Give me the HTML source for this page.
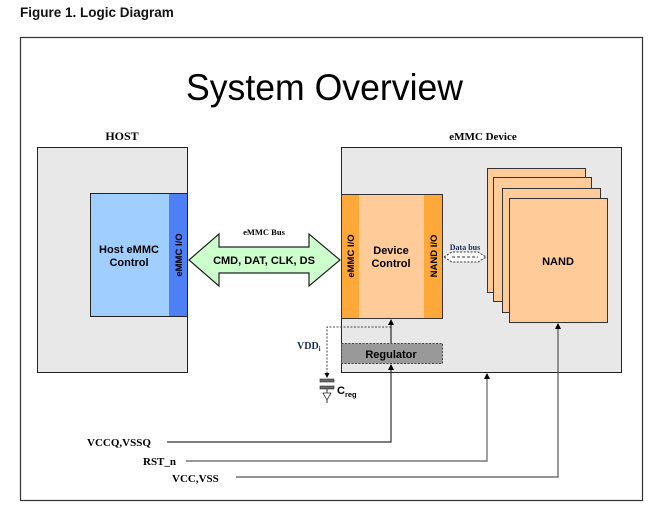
<!DOCTYPE html>
<html><head><meta charset="utf-8"><style>
body{margin:0;background:#fff;}
svg{display:block;}
.b{font-family:"Liberation Sans",sans-serif;font-weight:bold;}
.s{font-family:"Liberation Serif",serif;font-weight:bold;}
</style></head><body>
<svg width="652" height="511" viewBox="0 0 652 511" xmlns="http://www.w3.org/2000/svg">
<defs>
<marker id="ar" markerWidth="6" markerHeight="6" refX="5" refY="3" orient="auto" markerUnits="userSpaceOnUse"><path d="M0,0 L6,3 L0,6 Z" fill="#000"/></marker>
</defs>
<text x="20" y="17" class="b" font-size="13.5" fill="#111">Figure 1. Logic Diagram</text>
<rect x="20.5" y="37.5" width="622" height="463" fill="none" stroke="#333" stroke-width="1.2"/>
<text x="186" y="100" font-family="Liberation Sans,sans-serif" font-size="37" textLength="277" lengthAdjust="spacingAndGlyphs" fill="#000">System Overview</text>
<text x="122" y="140" text-anchor="middle" class="s" font-size="12">HOST</text>
<text x="483" y="140" text-anchor="middle" class="s" font-size="11">eMMC Device</text>
<!-- host -->
<rect x="37.5" y="147.5" width="150" height="225" fill="#e8e8e8" stroke="#222"/>
<rect x="90.5" y="193.5" width="97" height="123" fill="#a0cfff" stroke="#222"/>
<rect x="169" y="194" width="18" height="122" fill="#4f7ff5"/>
<text transform="translate(182,255) rotate(-90)" text-anchor="middle" class="b" font-size="9.5">eMMC I/O</text>
<text x="129" y="253" text-anchor="middle" class="b" font-size="11">Host eMMC</text>
<text x="129" y="266" text-anchor="middle" class="b" font-size="11">Control</text>
<!-- device -->
<rect x="341.5" y="147.5" width="280" height="225" fill="#e8e8e8" stroke="#222"/>
<rect x="341.5" y="194.5" width="101" height="124" fill="#ffcc99" stroke="#333"/>
<rect x="342" y="195" width="17" height="123" fill="#ffa83a"/>
<rect x="424" y="195" width="18" height="123" fill="#ffa83a"/>
<text transform="translate(354,256) rotate(-90)" text-anchor="middle" class="b" font-size="9.5">eMMC I/O</text>
<text transform="translate(437,256) rotate(-90)" text-anchor="middle" class="b" font-size="9.5">NAND I/O</text>
<text x="391" y="254" text-anchor="middle" class="b" font-size="11">Device</text>
<text x="391" y="267" text-anchor="middle" class="b" font-size="11">Control</text>
<!-- NAND stack -->
<rect x="487.5" y="168.5" width="98" height="124" fill="#ffcc99" stroke="#333"/>
<rect x="493.5" y="177.5" width="98" height="124" fill="#ffcc99" stroke="#333"/>
<rect x="502.5" y="188.5" width="98" height="124" fill="#ffcc99" stroke="#333"/>
<rect x="509.5" y="198.5" width="98" height="124" fill="#ffcc99" stroke="#333"/>
<text x="558" y="265" text-anchor="middle" class="b" font-size="11">NAND</text>
<!-- data bus -->
<text x="465" y="250" text-anchor="middle" class="s" font-size="8" fill="#1a2a5a">Data bus</text>
<path d="M444,257 L452,252 L478,252 L486,257 L478,262 L452,262 Z" fill="#fff" stroke="#333" stroke-dasharray="2,1.5"/>
<line x1="452" y1="257" x2="478" y2="257" stroke="#333" stroke-dasharray="3,2"/>
<!-- emmc bus arrow -->
<text x="264" y="235" text-anchor="middle" class="s" font-size="8.5">eMMC Bus</text>
<path d="M189,260 L219,234 L219,247 L309,247 L309,234 L340,260 L309,286 L309,273 L219,273 L219,286 Z" fill="#ccffcc" stroke="#222" stroke-width="1.2"/>
<text x="264" y="264" text-anchor="middle" class="b" font-size="11">CMD, DAT, CLK, DS</text>
<!-- regulator -->
<rect x="341.5" y="343.5" width="101" height="20" fill="#999" stroke="#444" stroke-dasharray="2,1.5"/>
<text x="391" y="358" text-anchor="middle" class="b" font-size="11">Regulator</text>
<line x1="391" y1="343" x2="391" y2="320" stroke="#000" marker-end="url(#ar)"/>
<polyline points="391,327 327,327 327,376" fill="none" stroke="#444" stroke-dasharray="2,1.5"/>
<path d="M324.5,373 L327,378 L329.5,373Z" fill="#000"/>
<rect x="320" y="379" width="14" height="3" fill="#666" stroke="#333" stroke-width="0.6"/>
<rect x="320" y="386" width="14" height="3" fill="#666" stroke="#333" stroke-width="0.6"/>
<line x1="327" y1="389" x2="327" y2="393" stroke="#333"/>
<path d="M323,393 L331,393 L327,400 Z" fill="#fff" stroke="#333" stroke-width="0.8"/>
<line x1="327" y1="400" x2="327" y2="403" stroke="#333"/>
<text x="337" y="394" class="b" font-size="11">C<tspan font-size="7.5" dy="3">reg</tspan></text>
<text x="297" y="349" class="s" font-size="10" fill="#1a2a5a">VDD<tspan font-size="7" dy="2">i</tspan></text>
<!-- power lines -->
<text x="87" y="446" class="s" font-size="11">VCCQ,VSSQ</text>
<polyline points="167,442 391,442 391,365" fill="none" stroke="#333" stroke-width="1.2" marker-end="url(#ar)"/>
<text x="143" y="465" class="s" font-size="11">RST_n</text>
<polyline points="186,461 487,461 487,374" fill="none" stroke="#777" stroke-width="1.4" marker-end="url(#ar)"/>
<text x="172" y="482" class="s" font-size="11">VCC,VSS</text>
<polyline points="236,477 558,477 558,324" fill="none" stroke="#555" stroke-width="1.2" marker-end="url(#ar)"/>
</svg>
</body></html>
